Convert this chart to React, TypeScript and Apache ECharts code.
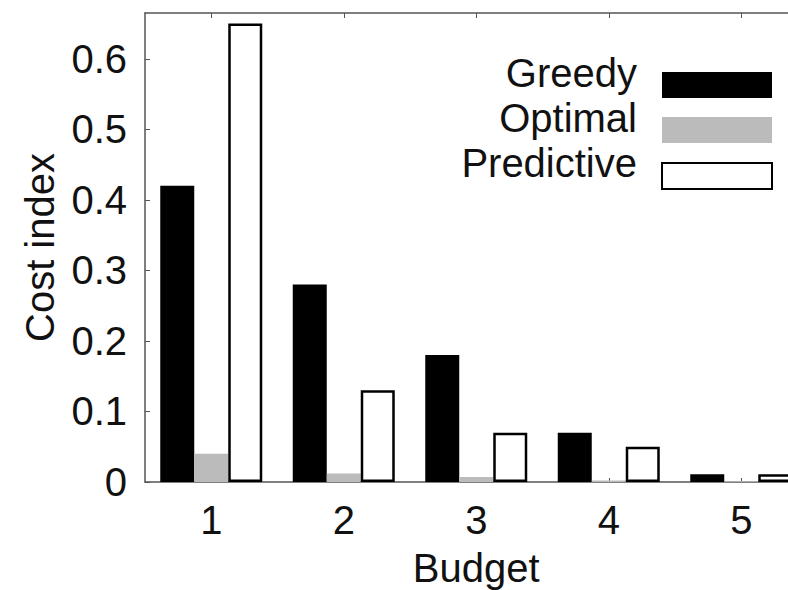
import React, { useEffect, useRef } from "react";
import * as echarts from "echarts";

const categories = ["1", "2", "3", "4", "5"];
const greedy = [0.42, 0.28, 0.18, 0.07, 0.011];
const optimal = [0.04, 0.012, 0.007, 0.002, 0.001];
const predictive = [0.65, 0.13, 0.07, 0.05, 0.011];
const seriesNames = ["Greedy", "Optimal", "Predictive"];

export default function App() {
  const ref = useRef<HTMLDivElement>(null);
  useEffect(() => {
    if (!ref.current) return;
    const chart = echarts.init(ref.current, null, { renderer: "svg" });
    const font = "Liberation Sans, Arial, sans-serif";
    const axisColor = "#555";
    chart.setOption({
      animation: false,
      backgroundColor: "#fff",
      textStyle: { fontFamily: font },
      grid: { left: 145, top: 13, width: 662.5, height: 469, outerBoundsMode: "none", containLabel: false },
      legend: [
        {
          orient: "vertical",
          right: 15,
          top: 72,
          padding: 0,
          align: "right",
          itemWidth: 110,
          itemHeight: 26,
          itemGap: 19,
          icon: "rect",
          data: seriesNames,
          formatter: () => "",
          textStyle: { fontSize: 10, lineHeight: 26 },
        },
        {
          orient: "vertical",
          right: 145,
          top: 50,
          padding: 0,
          align: "right",
          itemWidth: 0,
          itemHeight: 0,
          itemGap: 0,
          icon: "rect",
          itemStyle: { opacity: 0 },
          data: seriesNames,
          textStyle: {
            fontSize: 40,
            fontFamily: font,
            color: "#111",
            lineHeight: 45,
          },
        },
      ],
      xAxis: [
        {
          type: "category",
          data: categories,
          name: "Budget",
          nameLocation: "middle",
          nameGap: 66,
          nameTextStyle: { fontSize: 40, color: "#111", fontFamily: font },
          axisLine: { lineStyle: { color: axisColor, width: 1.5 } },
          axisTick: { show: true, inside: true, alignWithLabel: true, length: 4, lineStyle: { color: axisColor } },
          axisLabel: { fontSize: 40, color: "#111", margin: 18, fontFamily: font },
        },
        {
          type: "category",
          data: categories,
          position: "top",
          axisLine: { lineStyle: { color: axisColor, width: 1.5 } },
          axisTick: { show: true, inside: true, alignWithLabel: true, length: 5, lineStyle: { color: axisColor } },
          axisLabel: { show: false },
        },
      ],
      yAxis: {
        type: "value",
        min: 0,
        max: 0.665,
        interval: 0.1,
        name: "Cost index",
        nameLocation: "middle",
        nameRotate: 90,
        nameGap: 84,
        nameTextStyle: { fontSize: 40, color: "#111", fontFamily: font },
        axisLine: { show: true, lineStyle: { color: axisColor, width: 1.5 } },
        axisTick: { show: true, inside: true, length: 5, lineStyle: { color: axisColor } },
        axisLabel: { fontSize: 40, color: "#111", margin: 18, showMaxLabel: false, fontFamily: font },
        splitLine: { show: false },
      },
      series: [
        {
          name: seriesNames[0],
          type: "bar",
          data: greedy,
          barWidth: 34,
          barGap: "0%",
          itemStyle: { color: "#000" },
        },
        {
          name: seriesNames[1],
          type: "bar",
          data: optimal,
          barWidth: 34,
          barGap: "0%",
          itemStyle: { color: "#bbbbbb" },
        },
        {
          name: seriesNames[2],
          type: "bar",
          data: predictive,
          barWidth: 34,
          barGap: "0%",
          itemStyle: { color: "#fff", borderColor: "#000", borderWidth: 2.5 },
        },
      ],
    });
    return () => chart.dispose();
  }, []);
  return (
    <div
      ref={ref}
      style={{ position: "fixed", left: 0, top: 0, width: 788, height: 590 }}
    />
  );
}
